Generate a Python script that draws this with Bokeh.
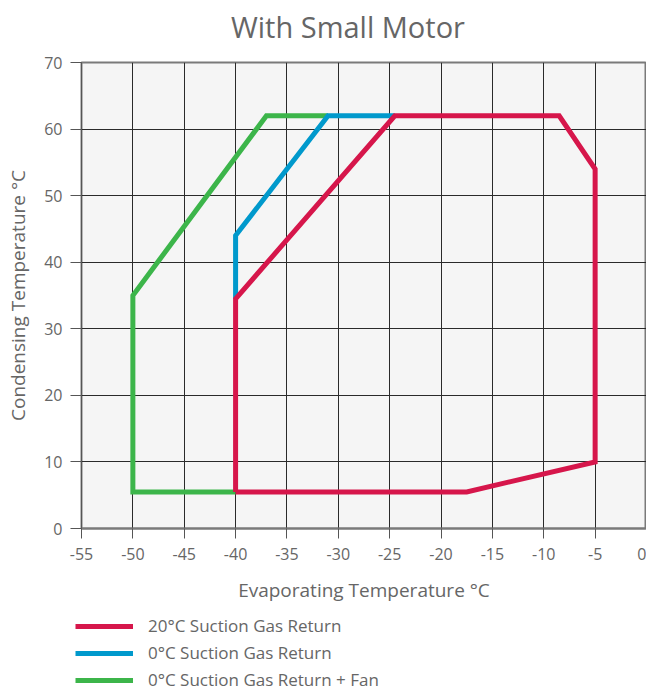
from bokeh.plotting import figure
from bokeh.models import Range1d, FixedTicker, Legend, LegendItem, Div
from bokeh.layouts import column
from bokeh.embed import file_html
from bokeh.resources import INLINE

# Data
red_x = [-40, -17.5, -5, -5, -8.5, -24.5, -40, -40]
red_y = [5.5, 5.5, 10, 54, 62, 62, 34.5, 5.5]
blue_x = [-40, -40, -31, -24.5]
blue_y = [34.5, 44, 62, 62]
green_x = [-40, -50, -50, -37, -31]
green_y = [5.5, 5.5, 35, 62, 62]

title_text = "With Small Motor"
series_labels = ["20°C Suction Gas Return", "0°C Suction Gas Return", "0°C Suction Gas Return + Fan"]
colors = ["#d6164b", "#0099cc", "#3cb54a"]
x_ticks = list(range(-55, 1, 5))
x_tick_labels = ["-55", "-50", "-45", "-40", "-35", "-30", "-25", "-20", "-15", "-10", "-5", "0"]
y_ticks = list(range(0, 71, 10))
y_tick_labels = ["0", "10", "20", "30", "40", "50", "60", "70"]

FONT = "Open Sans"
TXT = "#666666"

title = Div(text=title_text, width=646, height=44, margin=(0, 0, 0, 0),
            styles={"font-family": FONT, "font-size": "29px", "color": TXT,
                    "line-height": "54px", "text-indent": "231px", "white-space": "nowrap"})

p = figure(width=646, height=561, output_backend="svg", toolbar_location=None,
           x_range=Range1d(-55, 0), y_range=Range1d(0, 70),
           min_border_left=81, min_border_right=0, min_border_top=18, min_border_bottom=77)
p.frame_align = False

p.background_fill_color = "#f5f5f5"
p.border_fill_color = "white"
p.outline_line_color = "#7a7a7a"
p.outline_line_width = 2

p.xaxis.ticker = FixedTicker(ticks=x_ticks)
p.yaxis.ticker = FixedTicker(ticks=y_ticks)
p.xaxis.major_label_overrides = dict(zip(x_ticks, x_tick_labels))
p.yaxis.major_label_overrides = dict(zip(y_ticks, y_tick_labels))
p.xgrid.ticker = FixedTicker(ticks=x_ticks)
p.ygrid.ticker = FixedTicker(ticks=y_ticks)
for g in (p.xgrid, p.ygrid):
    g.grid_line_color = "#2a2a2a"
    g.grid_line_width = 1

p.xaxis.axis_label = "Evaporating Temperature °C"
p.yaxis.axis_label = "Condensing Temperature °C"
for ax in (p.xaxis, p.yaxis):
    ax.axis_label_text_font = FONT
    ax.axis_label_text_font_size = "19px"
    ax.axis_label_text_font_style = "normal"
    ax.axis_label_text_color = TXT
    ax.major_label_text_font = FONT
    ax.major_label_text_font_size = "16px"
    ax.major_label_text_color = TXT
    ax.minor_tick_line_color = None
    ax.major_tick_in = 0
    ax.major_tick_line_color = "#555555"
p.xaxis.axis_line_color = "#7a7a7a"
p.xaxis.axis_line_width = 2
p.xaxis.major_tick_out = 10
p.xaxis.major_label_standoff = 9
p.xaxis.axis_label_standoff = 14
p.yaxis.axis_line_color = "#555555"
p.yaxis.major_tick_out = 11
p.yaxis.major_label_standoff = 8
p.yaxis.axis_label_standoff = 10

p.line(green_x, green_y, line_color=colors[2], line_width=5, line_join="miter")
p.line(blue_x, blue_y, line_color=colors[1], line_width=5, line_join="miter")
p.line(red_x, red_y, line_color=colors[0], line_width=5, line_join="miter")

# Legend panel below the chart (its series lie outside this panel's ranges, so only the legend shows)
p2 = figure(width=646, height=86, output_backend="svg", toolbar_location=None,
            x_range=Range1d(0, 646), y_range=Range1d(0, 86),
            x_axis_location=None, y_axis_location=None,
            min_border_left=0, min_border_right=0, min_border_top=0, min_border_bottom=0)
p2.frame_align = False
p2.grid.visible = False
p2.outline_line_color = None
p2.background_fill_color = "white"
series_xy = [(red_x, red_y), (blue_x, blue_y), (green_x, green_y)]
leg_renderers = [p2.line(sx, sy, line_color=c, line_width=5) for (sx, sy), c in zip(series_xy, colors)]

legend = Legend(items=[LegendItem(label=lab, renderers=[r]) for lab, r in zip(series_labels, leg_renderers)],
                location=(75, 0))
legend.glyph_width = 58
legend.glyph_height = 20
legend.label_height = 20
legend.spacing = 4
legend.padding = 0
legend.margin = 0
legend.label_standoff = 15
legend.label_text_font = FONT
legend.label_text_font_size = "17px"
legend.label_text_color = TXT
legend.background_fill_alpha = 0
legend.border_line_color = None
p2.add_layout(legend, "center")

layout = column(title, p, p2, spacing=0)
open("out.html", "w").write(file_html(layout, INLINE))
